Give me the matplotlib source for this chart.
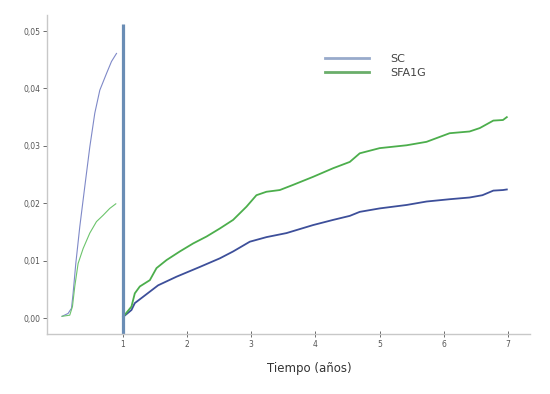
import numpy as np
import matplotlib
matplotlib.use("Agg")
from matplotlib import pyplot as plt

# first year (left block)
sc_first_x = [0.054, 0.148, 0.201, 0.226, 0.268, 0.330, 0.408, 0.486, 0.564, 0.642, 0.746, 0.824, 0.902]
sc_first_y = [0.0003, 0.0008, 0.0017, 0.0043, 0.0095, 0.0159, 0.0229, 0.0298, 0.0357, 0.0397, 0.0426, 0.0447, 0.0461]
sfa_first_x = [0.054, 0.174, 0.216, 0.252, 0.304, 0.382, 0.486, 0.590, 0.693, 0.797, 0.891]
sfa_first_y = [0.0003, 0.0005, 0.0020, 0.0055, 0.0095, 0.0121, 0.0148, 0.0168, 0.0179, 0.0191, 0.0199]

# from year 1 onwards
sc_x = [1.005, 1.135, 1.187, 1.316, 1.550, 1.836, 2.199, 2.511, 2.718, 2.978, 3.238, 3.549, 3.964,
        4.276, 4.535, 4.69, 5.00, 5.42, 5.73, 6.09, 6.40, 6.60, 6.77, 6.92, 6.98]
sc_y = [0.0002, 0.0014, 0.0026, 0.0037, 0.0057, 0.0072, 0.0089, 0.0104, 0.0116, 0.0133, 0.0141, 0.0148, 0.0162,
        0.0171, 0.0178, 0.0185, 0.0191, 0.0197, 0.0203, 0.0207, 0.0210, 0.0214, 0.0222, 0.0223, 0.0224]
sfa_x = [1.005, 1.135, 1.187, 1.265, 1.421, 1.525, 1.681, 1.888, 2.096, 2.304, 2.511, 2.718, 2.926, 3.081,
         3.237, 3.445, 3.652, 3.963, 4.275, 4.535, 4.69, 5.00, 5.42, 5.73, 6.09, 6.40, 6.56, 6.77, 6.92, 6.98]
sfa_y = [0.0002, 0.0020, 0.0043, 0.0055, 0.0066, 0.0087, 0.0101, 0.0116, 0.0130, 0.0142, 0.0156, 0.0171, 0.0194, 0.0214,
         0.0220, 0.0223, 0.0232, 0.0246, 0.0261, 0.0272, 0.0287, 0.0296, 0.0301, 0.0307, 0.0322, 0.0325, 0.0331, 0.0344, 0.0345, 0.0350]

x_ticks = [1, 2, 3, 4, 5, 6, 7]
y_ticks = [0.00, 0.01, 0.02, 0.03, 0.04, 0.05]
y_labels = ["0,00", "0,01", "0,02", "0,03", "0,04", "0,05"]

fig = plt.figure(figsize=(5.5, 3.94), dpi=100)
ax = fig.add_axes([0.0855, 0.152, 0.878, 0.81])

ax.plot(sc_first_x, sc_first_y, color="#7f89c8", lw=0.8)
ax.plot(sfa_first_x, sfa_first_y, color="#6cc46c", lw=0.8)
ax.plot(sc_x, sc_y, color="#3d4f9a", lw=1.3)
ax.plot(sfa_x, sfa_y, color="#4cae4c", lw=1.3)
ax.plot([1, 1], [-0.0028, 0.0512], color="#6a8db5", lw=2.3, solid_capstyle="butt")

# legend uses proxy lines with the lighter legend colours
ax.plot([], [], color="#98aacb", lw=2, label="SC")
ax.plot([], [], color="#6aae6a", lw=2, label="SFA1G")
handles, labels = ax.get_legend_handles_labels()
leg = ax.legend(handles[-2:], labels[-2:], loc="upper left", bbox_to_anchor=(0.555, 0.91),
                frameon=False, fontsize=8, handlelength=4.0, handletextpad=1.9, labelspacing=0.4)
for t in leg.get_texts():
    t.set_color("#444444")

ax.set_xlim(-0.18, 7.34)
ax.set_ylim(-0.0028, 0.0528)
ax.set_xticks(x_ticks)
ax.set_xticklabels([str(v) for v in x_ticks])
ax.set_yticks(y_ticks)
ax.set_yticklabels(y_labels)
ax.tick_params(axis="both", labelsize=5.5, colors="#555555", length=3, width=0.6, pad=2)
ax.tick_params(axis="x", direction="inout", length=4)

for s in ["top", "right"]:
    ax.spines[s].set_visible(False)
for s in ["left", "bottom"]:
    ax.spines[s].set_color("#c8c8c8")
    ax.spines[s].set_linewidth(1.0)

ax.text(3.91, -0.0088, "Tiempo (años)", ha="center", va="center", fontsize=8.5, color="#333333")

fig.savefig("out.png", dpi=100)
